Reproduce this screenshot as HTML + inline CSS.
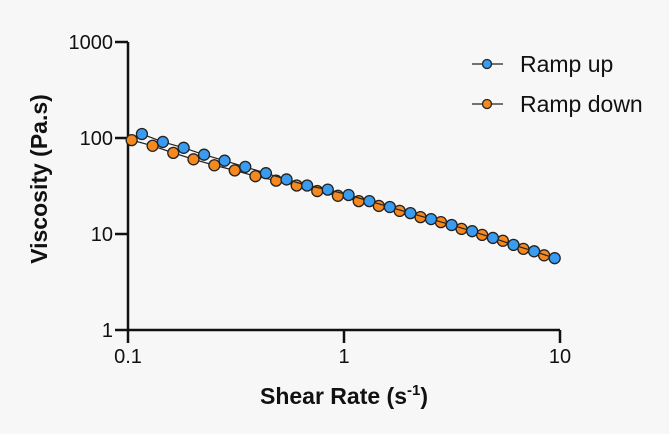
<!DOCTYPE html>
<html><head><meta charset="utf-8"><style>
html,body{margin:0;padding:0;background:#f7f7f7;}
svg{display:block;font-family:"Liberation Sans",Arial,sans-serif;}
</style></head><body>
<svg id="chart" width="669" height="434">
<rect width="669" height="434" fill="#f7f7f7"/>
</svg>
<script>
const upX=[0.116,0.145,0.181,0.225,0.28,0.349,0.435,0.542,0.675,0.841,1.05,1.31,1.63,2.03,2.53,3.15,3.92,4.89,6.09,7.59,9.45];
const upY=[110,91,79,67,58,50,43,37,32,29,25.5,22,19.1,16.5,14.3,12.4,10.7,9.1,7.7,6.6,5.6];
const downX=[0.104,0.13,0.162,0.201,0.251,0.312,0.389,0.485,0.604,0.752,0.937,1.17,1.45,1.81,2.26,2.81,3.5,4.36,5.44,6.77,8.44];
const downY=[95,83,70,60,52,46,40,36,32,28,25,22,19.6,17.4,15,13.3,11.3,9.8,8.5,7.0,6.0];
const xTicks=[0.1,1,10];
const xTickLabels=["0.1","1","10"];
const yTicks=[1,10,100,1000];
const yTickLabels=["1","10","100","1000"];
const NS="http://www.w3.org/2000/svg";
const svg=document.getElementById('chart');
const X0=128,X1=560,Y0=330,Y1=42;
function sx(v){return X0+(Math.log10(v)+1)/2*(X1-X0);}
function sy(v){return Y0-Math.log10(v)/3*(Y0-Y1);}
function mk(t,a){const e=document.createElementNS(NS,t);for(const k in a)e.setAttribute(k,a[k]);svg.appendChild(e);return e;}
let e;
e=mk('line',{x1:X0,y1:Y1,x2:X0,y2:Y0+1,stroke:'#111','stroke-width':2.5});


e=mk('line',{x1:X0-1,y1:Y0,x2:X1,y2:Y0,stroke:'#111','stroke-width':2.5});


yTicks.forEach((v,i)=>{
 let t=mk('line',{x1:X0-13,x2:X0,y1:sy(v),y2:sy(v),stroke:'#111','stroke-width':2.5});
 
 
 let l=mk('text',{x:X0-15,y:sy(v)+7,'text-anchor':'end','font-size':20,fill:'#111'});
 l.textContent=yTickLabels[i];
 
 
});
xTicks.forEach((v,i)=>{
 let t=mk('line',{x1:sx(v),x2:sx(v),y1:Y0,y2:Y0+13,stroke:'#111','stroke-width':2.5});
 
 
 let l=mk('text',{x:sx(v),y:Y0+33,'text-anchor':'middle','font-size':20,fill:'#111'});
 l.textContent=xTickLabels[i];
 
 
});
e=mk('text',{x:344,y:404,'text-anchor':'middle','font-size':23,'font-weight':'bold',fill:'#111'});
e.innerHTML='Shear Rate (s<tspan font-size="15" dy="-9">-1</tspan><tspan dy="9">)</tspan>';


e=mk('text',{x:0,y:0,'text-anchor':'middle','font-size':23,'font-weight':'bold',fill:'#111',transform:'translate(47,179) rotate(-90)'});
e.textContent='Viscosity (Pa.s)';


function series(xs,ys,color,name){
 const p=xs.map((x,i)=>sx(x)+','+sy(ys[i])).join(' ');
 let l=mk('polyline',{points:p,fill:'none',stroke:'#222','stroke-width':1.2});
 
 
 xs.forEach((x,i)=>{
  let c=mk('circle',{cx:sx(x),cy:sy(ys[i]),r:5.5,fill:color,stroke:'#222','stroke-width':1.3});
  
  
 });
}
series(downX,downY,'#f5891e','ramp-down');
series(upX,upY,'#3a9cf0','ramp-up');
[[64,'#3a9cf0','Ramp up','legend-ramp-up'],[104,'#f5891e','Ramp down','legend-ramp-down']].forEach(d=>{
 let l=mk('line',{x1:472,x2:503,y1:d[0],y2:d[0],stroke:'#222','stroke-width':1.2});
 
 
 let c=mk('circle',{cx:487,cy:d[0],r:4.5,fill:d[1],stroke:'#222','stroke-width':1.3});
 
 
 let t=mk('text',{x:520,y:d[0]+8,'font-size':23,fill:'#111'});
 t.textContent=d[2];
 
 
});
</script>
</body></html>
